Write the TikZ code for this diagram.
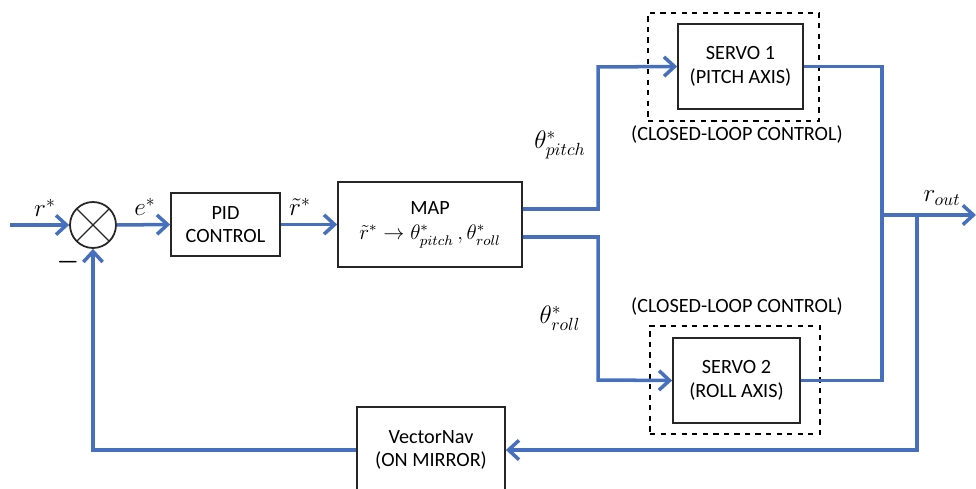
\documentclass[tikz,border=0pt]{standalone}
\usepackage{amsmath, amssymb}
\usepackage{fontspec}
\setmainfont{Carlito}
\usepackage{tikz}
\usetikzlibrary{calc, arrows.meta, positioning}

\definecolor{sigblue}{RGB}{70,112,190}
\tikzset{
    blk/.style={draw=black!85, line width=1pt, fill=white, align=center,
        font=\fontsize{11.5}{13.5}\selectfont, inner sep=0pt},
    dashbox/.style={draw, dashed, line width=0.8pt},
    sig/.style={draw=sigblue, line width=2pt},
    sigarrow/.style={sig, -{Straight Barb[length=6pt, width=11pt, line width=2pt]}},
    lbl/.style={font=\Large},
    note/.style={font=\fontsize{11.5}{13.5}\selectfont}
}

\begin{document}
\begin{tikzpicture}[x=0.02cm, y=-0.02cm]
    \useasboundingbox (0,0) rectangle (976,489);
    \clip (0,0) rectangle (976,489);

    % Khối chính
    \node[draw=black!85, line width=1pt, circle, minimum size=0.92cm, inner sep=0pt,
        path picture={
            \draw[line width=0.8pt] (path picture bounding box.south west) -- (path picture bounding box.north east);
            \draw[line width=0.8pt] (path picture bounding box.north west) -- (path picture bounding box.south east);
        }] (sum) at (93,225) {};
    \node[blk, minimum width=2.18cm, minimum height=1.26cm] (pid) at (225.5,224.5) {PID\\CONTROL};
    \node[blk, minimum width=3.68cm, minimum height=1.7cm] (map) at (430,224.5)
        {MAP\\[1pt] \large$\tilde{r}^{*} \rightarrow \theta^{*}_{pitch}\,,\theta^{*}_{roll}$};

    % Servo trong vòng kín
    \node[dashbox, minimum width=3.42cm, minimum height=2.16cm] (loop1) at (733.5,67) {};
    \node[blk, minimum width=2.5cm, minimum height=1.7cm] (servo1) at (740.5,66.5) {SERVO 1\\(PITCH AXIS)};
    \node[dashbox, minimum width=3.4cm, minimum height=2.16cm] (loop2) at (735,380) {};
    \node[blk, minimum width=2.54cm, minimum height=1.7cm] (servo2) at (736.5,380.5) {SERVO 2\\(ROLL AXIS)};
    \node[note] (cl1) at (737,135) {(CLOSED-LOOP CONTROL)};
    \node[note] (cl2) at (737,307) {(CLOSED-LOOP CONTROL)};

    % Cảm biến phản hồi
    \node[blk, minimum width=2.96cm, minimum height=1.72cm] (vnav) at (431,450) {VectorNav\\(ON MIRROR)};

    % Điểm gấp khúc
    \coordinate (in) at (10,225);
    \coordinate (up) at (598,67);
    \coordinate (dn) at (598,380);
    \coordinate (rj) at (882,215);
    \coordinate (out) at (976,215);
    \coordinate (fb) at (917,215);

    % Đường tín hiệu
    \draw[sigarrow] (in) -- (sum.west);
    \draw[sigarrow] (sum.east) -- (pid.west);
    \draw[sigarrow] (pid.east) -- (map.west);
    \draw[sigarrow] ($(map.east)+(0,-15.5)$) -| (up) -- (servo1.west);
    \draw[sigarrow] ($(map.east)+(0,12.5)$) -| (dn) -- (servo2.west);
    \draw[sig] (servo1.east) -| (rj) |- (servo2.east);
    \draw[sigarrow] (rj) -- (out);
    \draw[sigarrow] (fb) |- (vnav.east);
    \draw[sigarrow] (vnav.west) -| (sum.south);

    % Nhãn tín hiệu
    \node[lbl] at (45,208) {$r^{*}$};
    \node[lbl] at (145,207) {$e^{*}$};
    \node[lbl] at (300,207) {$\tilde{r}^{*}$};
    \node[lbl] at (560,145) {$\theta^{*}_{pitch}$};
    \node[lbl] at (560,318) {$\theta^{*}_{roll}$};
    \node[lbl] at (942,198) {$r_{out}$};
    \node[font=\Large] at (68,262) {$\boldsymbol{-}$};
\end{tikzpicture}
\end{document}
